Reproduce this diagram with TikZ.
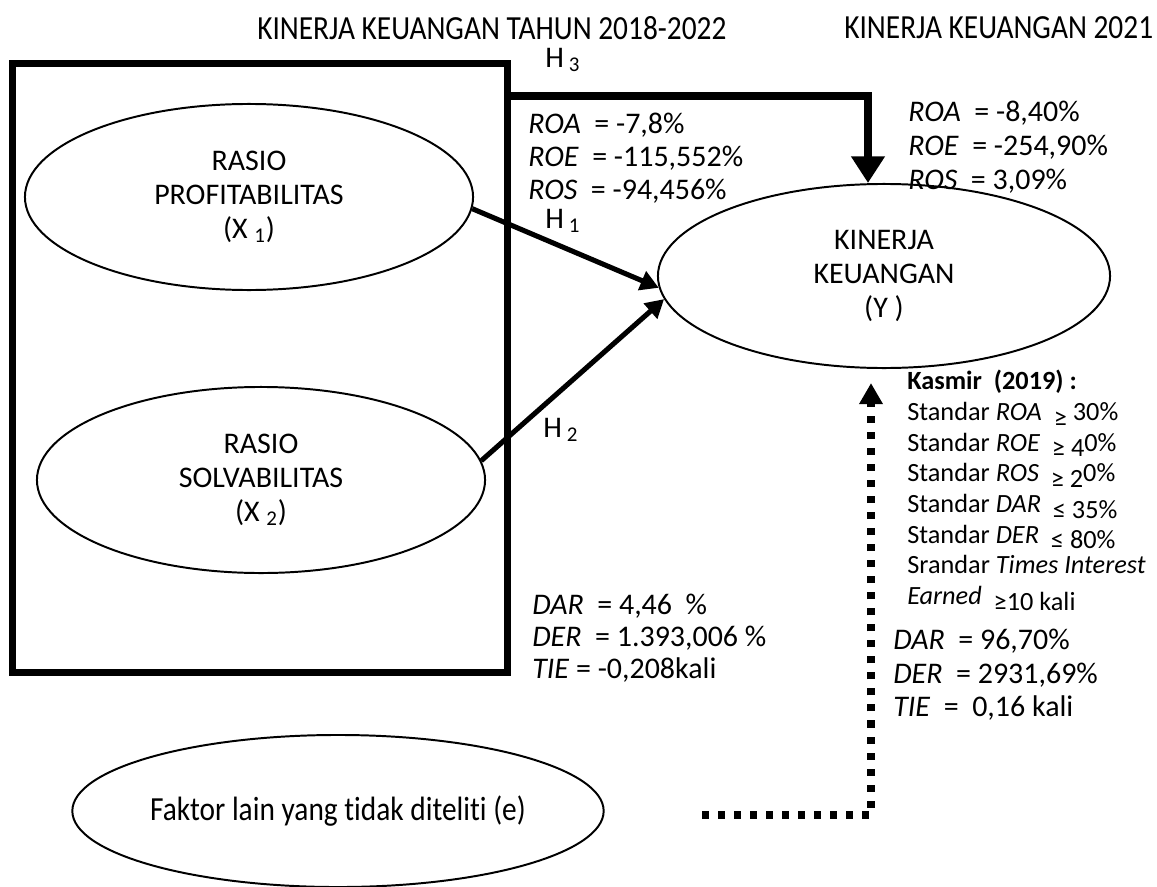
\documentclass[tikz,border=0pt]{standalone}
\usepackage{fontspec}
\setmainfont{Carlito}
\newfontfamily\narrowfont[FakeStretch=0.87, Ligatures=NoCommon]{Carlito}
\usetikzlibrary{shapes.geometric, arrows.meta}
\newcommand{\dn}[1]{\raisebox{-4pt}{#1}}
\tikzstyle{latent} = [ellipse, draw=black, line width=1.4pt, inner sep=0pt, align=center, font=\fontsize{21.3}{24.2}\selectfont]
\tikzstyle{frame} = [rectangle, draw=black, line width=5pt, inner sep=0pt]
\tikzstyle{values} = [inner sep=0pt, align=left, anchor=north west, font=\fontsize{21.3}{23.5}\selectfont]
\tikzstyle{standard} = [inner sep=0pt, align=left, anchor=north west, font=\fontsize{18.7}{21.8}\selectfont]
\tikzstyle{heading} = [inner sep=0pt, anchor=west, font=\narrowfont\fontsize{24}{28}\selectfont]
\tikzstyle{hlabel} = [inner sep=0pt, anchor=west, font=\fontsize{21.3}{24}\selectfont]
\tikzstyle{arrow} = [line width=3.6pt, -{Triangle[length=13pt, width=14pt]}]
\tikzstyle{bigarrow} = [line width=5pt, -{Triangle[length=19pt, width=23pt]}]
\tikzstyle{dotarrow} = [line width=5pt, dash pattern=on 5pt off 6.4pt, -{Triangle[length=15pt, width=16pt]}]

\begin{document}
\begin{tikzpicture}[x=0.025cm, y=-0.025cm]
\useasboundingbox (0,0) rectangle (1157,887);

\node (head1) [heading] at (257,28) {KINERJA KEUANGAN TAHUN 2018-2022};
\node (head2) [heading] at (844,28) {KINERJA KEUANGAN 2021};

\node (frame) [frame, minimum width=12.35cm, minimum height=15.2cm] at (260,368) {};
\node (x1) [latent, minimum width=11.2cm, minimum height=4.65cm] at (249,197) {RASIO\\PROFITABILITAS\\(X\ \textsubscript{1})};
\node (x2) [latent, minimum width=11.2cm, minimum height=4.65cm] at (261,480) {RASIO\\SOLVABILITAS\\(X\ \textsubscript{2})};
\node (kinerja) [latent, minimum width=11.3cm, minimum height=4.6cm] at (884,276) {KINERJA\\KEUANGAN\\(Y )};
\node (faktor) [latent, minimum width=12.95cm, minimum height=3.8cm, font=\narrowfont\fontsize{24}{28}\selectfont] at (338,811) {\raisebox{-6pt}{Faktor lain yang tidak diteliti (e)}};

\node (h3) [hlabel] at (545,60) {H\,\textsubscript{3}};
\node (h1) [hlabel] at (545,221) {H\,\textsubscript{1}};
\node (h2) [hlabel] at (543,430) {H\,\textsubscript{2}};

\node (prof1822) [values] at (528,113) {\textit{ROA}\ \ = -7,8\%\\\textit{ROE}\ \ = -115,552\%\\\textit{ROS}\ \ = -94,456\%};
\node (prof21) [values, font=\fontsize{21.3}{24.2}\selectfont] at (908,101) {\textit{ROA}\ \ = -8,40\%\\\textit{ROE}\ \ = -254,90\%\\\textit{ROS}\ \ = 3,09\%};
\node (solv1822) [values, font=\fontsize{21.3}{22.8}\selectfont] at (532,594) {\textit{DAR}\ \ = 4,46\ \ \%\\\textit{DER}\ \ = 1.393,006 \%\\\textit{TIE} = -0,208kali};
\node (solv21) [values, font=\fontsize{21.3}{23.8}\selectfont] at (893,629) {\textit{DAR}\ \ = 96,70\%\\\textit{DER}\ \ = 2931,69\%\\\textit{TIE}\ \ = \ 0,16 kali};
\node (kasmir) [standard] at (907,370) {\textbf{Kasmir\ \ (2019) :}\\Standar \textit{ROA}\ \ \dn{≥} 30\%\\Standar \textit{ROE}\ \ \dn{≥ 4}0\%\\Standar \textit{ROS}\ \ \dn{≥ 2}0\%\\Standar \textit{DAR}\ \ \dn{≤ 35\%}\\Standar \textit{DER}\ \ \dn{≤ 80\%}\\Srandar \textit{Times Interest}\\\textit{Earned}\ \ \dn{≥10 kali}};

\coordinate (h3turn) at (868,96);
\coordinate (dotstart) at (702,815);
\coordinate (dotturn) at (871,815);

\draw [arrow] (x1.-3.5) -- (kinerja.183);
\draw [arrow] (x2.5) -- (kinerja.186);
\draw [bigarrow] (frame.east |- h3turn) -- (h3turn) -- (h3turn |- kinerja.north);
\draw [dotarrow, shorten >=10pt] (dotstart) -- (dotturn) -- (dotturn |- kinerja.south);

\end{tikzpicture}
\end{document}
